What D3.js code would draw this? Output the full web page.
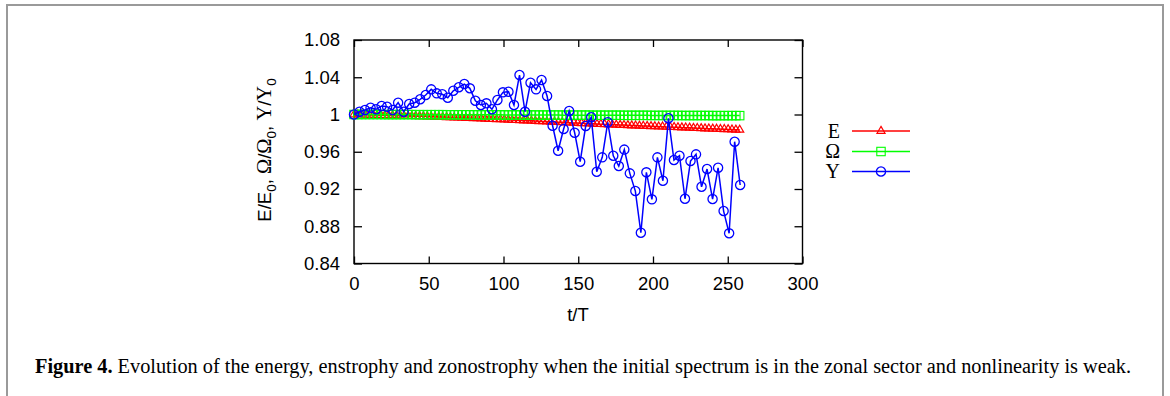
<!DOCTYPE html>
<html>
<head>
<meta charset="utf-8">
<script src="https://cdn.jsdelivr.net/npm/d3@7"></script>
<style>
  body { margin: 0; background: #fff; }
  svg { display: block; }
  .tick text { font-family: "Liberation Sans", Arial, sans-serif; font-size: 18.5px; fill: #000; }
</style>
</head>
<body>
<svg id="chart" width="1170" height="396"></svg>
<script>
// sampling steps in t/T
const stepY = 3.69;
const stepE = 2.58;

// Y/Y0 (blue circles)
const zonoY = [1.000, 1.003, 1.0048, 1.0073, 1.0056, 1.0091, 1.0084, 1.0048, 1.0127, 1.003,
  1.0113, 1.0127, 1.0163, 1.0209, 1.027, 1.0227, 1.0217, 1.018, 1.0255, 1.0292,
  1.0327, 1.0281, 1.0148, 1.0102, 1.012, 1.0056, 1.0156, 1.0238, 1.0245, 1.0102,
  1.0424, 1.003, 1.0341, 1.027, 1.037, 1.0198, 0.9879, 0.9611, 0.9844, 1.0037,
  0.9804, 0.9493, 0.9876, 0.997, 0.9385, 0.954, 0.9916, 0.9557, 0.9447, 0.9623,
  0.9368, 0.9178, 0.873, 0.9379, 0.9089, 0.954, 0.9289, 0.9959, 0.9511, 0.9557,
  0.9095, 0.95, 0.9572, 0.9224, 0.9414, 0.9092, 0.9428, 0.8963, 0.8724, 0.9708,
  0.9243];

// E/E0 (red triangles)
const energyE = [1.0000, 0.9999, 0.9998, 0.9997, 0.9995, 0.9994, 0.9993, 0.9992, 0.9991, 0.9990,
  0.9989, 0.9988, 0.9986, 0.9985, 0.9984, 0.9983, 0.9982, 0.9981, 0.9980, 0.9979,
  0.9977, 0.9975, 0.9974, 0.9972, 0.9970, 0.9969, 0.9967, 0.9966, 0.9964, 0.9962,
  0.9961, 0.9959, 0.9958, 0.9956, 0.9954, 0.9952, 0.9950, 0.9948, 0.9947, 0.9945,
  0.9943, 0.9941, 0.9939, 0.9937, 0.9935, 0.9934, 0.9932, 0.9930, 0.9928, 0.9926,
  0.9924, 0.9922, 0.9920, 0.9918, 0.9916, 0.9914, 0.9912, 0.9910, 0.9908, 0.9906,
  0.9904, 0.9902, 0.9900, 0.9898, 0.9896, 0.9894, 0.9893, 0.9891, 0.9889, 0.9887,
  0.9886, 0.9884, 0.9882, 0.9881, 0.9879, 0.9877, 0.9876, 0.9874, 0.9872, 0.9870,
  0.9869, 0.9867, 0.9865, 0.9864, 0.9862, 0.9860, 0.9859, 0.9857, 0.9855, 0.9853,
  0.9852, 0.9850, 0.9848, 0.9847, 0.9845, 0.9843, 0.9842, 0.9840, 0.9838, 0.9836,
  0.9835];

// Omega/Omega0 (green squares)
const enstrophyO = [1.0000, 1.0000, 1.0000, 1.0000, 1.0000, 1.0000, 1.0000, 1.0000, 0.9999, 0.9999,
  0.9999, 0.9999, 0.9999, 0.9999, 0.9999, 0.9999, 0.9998, 0.9998, 0.9998, 0.9998,
  0.9998, 0.9998, 0.9998, 0.9998, 0.9997, 0.9997, 0.9997, 0.9997, 0.9997, 0.9997,
  0.9997, 0.9996, 0.9996, 0.9996, 0.9996, 0.9996, 0.9996, 0.9996, 0.9996, 0.9995,
  0.9995, 0.9995, 0.9995, 0.9995, 0.9995, 0.9995, 0.9995, 0.9994, 0.9994, 0.9994,
  0.9994, 0.9994, 0.9994, 0.9994, 0.9993, 0.9993, 0.9993, 0.9993, 0.9993, 0.9993,
  0.9993, 0.9993, 0.9992, 0.9992, 0.9992, 0.9992, 0.9992, 0.9992, 0.9992, 0.9992,
  0.9991, 0.9991, 0.9991, 0.9991, 0.9991, 0.9991, 0.9991, 0.9990, 0.9990, 0.9990,
  0.9990, 0.9990, 0.9990, 0.9990, 0.9990, 0.9989, 0.9989, 0.9989, 0.9989, 0.9989,
  0.9989, 0.9989, 0.9989, 0.9988, 0.9988, 0.9988, 0.9988, 0.9988, 0.9988, 0.9988,
  0.9988];

const xTicks = [0, 50, 100, 150, 200, 250, 300];
const yTicks = [0.84, 0.88, 0.92, 0.96, 1, 1.04, 1.08];

const svg = d3.select("#chart");

// outer gray frame of the figure
svg.append("rect").attr("x", 7).attr("y", 5).attr("width", 1156).attr("height", 430)
  .attr("fill", "none").attr("stroke", "#9a9a9a").attr("stroke-width", 2);

const x = d3.scaleLinear().domain([0, 300]).range([354, 802.5]);
const y = d3.scaleLinear().domain([0.84, 1.08]).range([263.5, 40]);

// axes, ticks point inward on all four sides
const axB = svg.append("g").attr("transform", "translate(0,263.5)")
  .call(d3.axisBottom(x).tickValues(xTicks).tickSizeInner(-7).tickSizeOuter(0).tickPadding(13));
const axT = svg.append("g").attr("transform", "translate(0,40)")
  .call(d3.axisTop(x).tickValues(xTicks).tickSizeInner(-7).tickSizeOuter(0).tickFormat(""));
const axL = svg.append("g").attr("transform", "translate(354,0)")
  .call(d3.axisLeft(y).tickValues(yTicks).tickSizeInner(-8).tickSizeOuter(0).tickPadding(14)
    .tickFormat(d => d === 1 ? "1" : d3.format(".2f")(d)));
const axR = svg.append("g").attr("transform", "translate(802.5,0)")
  .call(d3.axisRight(y).tickValues(yTicks).tickSizeInner(-8).tickSizeOuter(0).tickFormat(""));
[axB, axT, axL, axR].forEach(a => {
  a.select(".domain").remove();
  a.selectAll(".tick line").attr("stroke", "#000").attr("stroke-width", 1.3);
});

svg.append("rect").attr("x", 354).attr("y", 40).attr("width", 448.5).attr("height", 223.5)
  .attr("fill", "none").attr("stroke", "#000").attr("stroke-width", 1.4);

// series
const series = [
  { name: "E", vals: energyE, step: stepE, color: "#ff0000", shape: "tri" },
  { name: "\u03a9", vals: enstrophyO, step: stepE, color: "#00ff00", shape: "sq" },
  { name: "Y", vals: zonoY, step: stepY, color: "#0000ff", shape: "circ" }
];

const line = d3.line().x(d => x(d.t)).y(d => y(d.v));

function drawMarker(g, shape, color) {
  if (shape === "tri") {
    g.append("path").attr("d", d3.symbol(d3.symbolTriangle).size(28)())
      .attr("fill", "none").attr("stroke", color).attr("stroke-width", 1.2);
  } else if (shape === "sq") {
    g.append("rect").attr("x", -4.2).attr("y", -4.2).attr("width", 8.4).attr("height", 8.4)
      .attr("fill", "none").attr("stroke", color).attr("stroke-width", 1.1);
  } else {
    g.append("circle").attr("r", 4.6)
      .attr("fill", "none").attr("stroke", color).attr("stroke-width", 1.3);
  }
}

series.forEach(s => {
  const pts = s.vals.map((v, i) => ({ t: i * s.step, v: v }));
  const g = svg.append("g");
  g.append("path").datum(pts).attr("d", line)
    .attr("fill", "none").attr("stroke", s.color).attr("stroke-width", 1.5);
  g.selectAll("g.m").data(pts).enter().append("g").attr("class", "m")
    .attr("transform", d => `translate(${x(d.t)},${y(d.v)})`)
    .each(function() { drawMarker(d3.select(this), s.shape, s.color); });
});

// legend
const serif = "'Liberation Serif', 'Times New Roman', serif";
const legY = [131, 151.5, 171.5];
series.forEach((s, i) => {
  svg.append("text").attr("x", 840).attr("y", legY[i] + 6.8)
    .attr("text-anchor", "end")
    .style("font-family", serif)
    .style("font-size", "20px").text(s.name);
  svg.append("line").attr("x1", 852).attr("x2", 910).attr("y1", legY[i]).attr("y2", legY[i])
    .attr("stroke", s.color).attr("stroke-width", 1.5);
  drawMarker(svg.append("g").attr("transform", `translate(881,${legY[i]})`), s.shape, s.color);
});

// axis titles
svg.append("text").attr("x", 578).attr("y", 321).attr("text-anchor", "middle")
  .style("font-family", "'Liberation Sans', Arial, sans-serif").style("font-size", "18.5px")
  .text("t/T");

const yt = svg.append("text").attr("transform", "translate(271,150) rotate(-90)")
  .attr("text-anchor", "middle")
  .style("font-family", "'Liberation Sans', Arial, sans-serif").style("font-size", "18.5px");
const parts = [
  ["E/E", null], ["0", "sub"], [", ", null], ["\u03a9", "serif"], ["/", null], ["\u03a9", "serif"],
  ["0", "sub"], [", ", null], ["Y", "serif"], ["/", null], ["Y", "serif"], ["0", "sub"]
];
let prevSub = false;
parts.forEach(p => {
  const ts = yt.append("tspan").text(p[0]);
  if (p[1] === "sub") ts.attr("dy", 5).style("font-size", "13.5px");
  else if (prevSub) ts.attr("dy", -5);
  if (p[1] === "serif") ts.style("font-family", serif).style("font-size", "20.5px");
  prevSub = p[1] === "sub";
});

// caption
const cap = svg.append("text").attr("x", 35).attr("y", 373)
  .style("font-family", serif).style("font-size", "20px");
cap.append("tspan").style("font-weight", "bold").text("Figure 4.");
cap.append("tspan").text(" Evolution of the energy, enstrophy and zonostrophy when the initial spectrum is in the zonal sector and nonlinearity is weak.");
cap.attr("textLength", 1096).attr("lengthAdjust", "spacingAndGlyphs");
</script>
</body>
</html>
